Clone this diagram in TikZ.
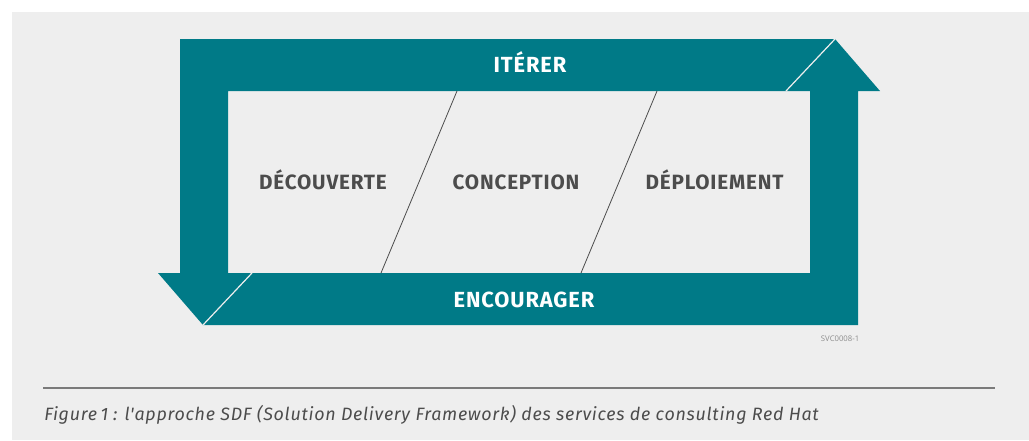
\documentclass[tikz,border=0pt]{standalone}
\usepackage{fontspec}
\setmainfont{Open Sans}
\newfontfamily\capfont[LetterSpace=4]{Fira Sans}
\newfontfamily\labfont[LetterSpace=4]{Fira Sans}
\definecolor{bg}{HTML}{EEEEEE}
\definecolor{teal}{HTML}{007A87}
\definecolor{ink}{HTML}{4C4C4C}
\tikzset{
 band/.style={fill=teal,draw=none},
 sep/.style={draw=bg,line width=0.9pt},
 slant/.style={draw=ink,line width=0.6pt},
 phase/.style={text=ink,font=\labfont\fontsize{15.5pt}{16pt}\selectfont\bfseries,inner sep=0pt,anchor=base},
 bandlabel/.style={text=white,font=\labfont\fontsize{16.4pt}{17pt}\selectfont\bfseries,inner sep=0pt,anchor=base},
}
\begin{document}
\begin{tikzpicture}[x=0.75pt,y=-0.75pt]
\useasboundingbox (0,0) rectangle (1029,440);
\fill[bg] (12,12) rectangle (1029,440);
\path[band] (180,39) -- (835,39) -- (786,91) -- (228,91) -- (228,273) -- (252,273) -- (203,325) -- (158,273) -- (180,273) -- cycle;
\path[band] (203,325) -- (858,325) -- (858,91) -- (880,91) -- (835,39) -- (786,91) -- (810,91) -- (810,273) -- (252,273) -- cycle;
\draw[sep] (203,325) -- (252,273);
\draw[sep] (786,91) -- (835,39);
\draw[slant] (457,91) -- (381,273);
\draw[slant] (657,91) -- (581,273);
\node[bandlabel] (iterer) at (530,72) {ITÉRER};
\node[bandlabel] (encourager) at (524,307.5) {ENCOURAGER};
\node[phase] (decouverte) at (323,189) {DÉCOUVERTE};
\node[phase] (conception) at (516,189) {CONCEPTION};
\node[phase] (deploiement) at (714.5,189) {DÉPLOIEMENT};
\node[text=black!45,font=\fontsize{5.8pt}{7pt}\selectfont,inner sep=0pt,anchor=base east] (code) at (859.5,341.5) {SVC0008-1};
\draw[draw=black!52,line width=1pt] (43,388) coordinate (ruleL) -- (995,388) coordinate (ruleR);
\node[text=ink,font=\capfont\fontsize{13.4pt}{15pt}\selectfont\itshape,inner sep=0pt,anchor=base west] (caption) at (44,420.5) {Figure\hspace{0.2em}1\hspace{0.28em}: l\char"27 approche SDF (Solution Delivery Framework) des services de consulting Red Hat};
\end{tikzpicture}
\end{document}
